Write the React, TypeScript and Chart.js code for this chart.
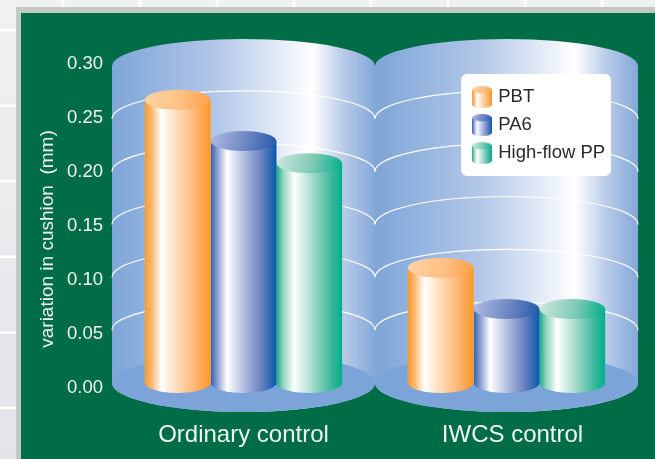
import React, { useEffect, useRef } from "react";
import { Chart, registerables } from "chart.js";

Chart.register(...registerables);

const categories = ["Ordinary control", "IWCS control"];
const seriesNames = ["PBT", "PA6", "High-flow PP"];
const pbtValues = [0.268, 0.109];
const pa6Values = [0.229, 0.07];
const highFlowValues = [0.208, 0.07];
const yTicks = [0, 0.05, 0.1, 0.15, 0.2, 0.25, 0.3];

type Stops = [number, string][];
const sideStops: Stops[] = [
  [[0, "#fb9a2a"], [0.1, "#fcb56e"], [0.25, "#ffffff"], [0.5, "#fedab5"], [0.8, "#fcb16a"], [1, "#fa9826"]],
  [[0, "#2f60ae"], [0.1, "#8b9dd2"], [0.25, "#ffffff"], [0.5, "#b4c0e2"], [0.78, "#6680c0"], [1, "#0859ad"]],
  [[0, "#10a886"], [0.1, "#8fd4bf"], [0.27, "#ffffff"], [0.55, "#a6dacb"], [0.85, "#35b79a"], [1, "#00b08d"]],
];
const capStops: Stops[] = [
  [[0, "#fdd3a8"], [0.55, "#fdc185"], [1, "#fb9f45"]],
  [[0, "#b2bce2"], [0.55, "#6c86c3"], [1, "#245aab"]],
  [[0, "#cfeadf"], [0.55, "#80cbb5"], [1, "#00ae8c"]],
];

const wallRy = 27;
const floorRy = 29;
const capRy = 10;

const gradient = (
  ctx: CanvasRenderingContext2D,
  x0: number,
  y0: number,
  x1: number,
  y1: number,
  stops: Stops,
) => {
  const g = ctx.createLinearGradient(x0, y0, x1, y1);
  stops.forEach(([o, c]) => g.addColorStop(o, c));
  return g;
};

const paintCylinder = (
  ctx: CanvasRenderingContext2D,
  cx: number,
  topY: number,
  baseY: number,
  w: number,
  ry: number,
  i: number,
) => {
  const l = cx - w / 2;
  const r = cx + w / 2;
  ctx.beginPath();
  ctx.moveTo(l, topY);
  ctx.lineTo(l, baseY);
  ctx.ellipse(cx, baseY, w / 2, ry, 0, Math.PI, 0, true);
  ctx.lineTo(r, topY);
  ctx.closePath();
  ctx.fillStyle = gradient(ctx, l, 0, r, 0, sideStops[i]);
  ctx.fill();
  ctx.beginPath();
  ctx.ellipse(cx, topY, w / 2, ry, 0, 0, Math.PI * 2);
  ctx.fillStyle = gradient(ctx, l, topY - ry, r, topY + ry * 0.6, capStops[i]);
  ctx.fill();
};

const makeIcon = (i: number) => {
  const c = document.createElement("canvas");
  c.width = 20;
  c.height = 22;
  const ctx = c.getContext("2d")!;
  paintCylinder(ctx, 10, 3.5, 18.5, 20, 3.5, i);
  return c;
};

const backdrop = {
  id: "backdrop",
  beforeDraw(chart: any) {
    const { ctx, width, height } = chart;
    const y = chart.scales.yMarks;
    const x = chart.scales.x;
    ctx.save();
    // page
    const bg = ctx.createLinearGradient(0, 0, 0, height);
    bg.addColorStop(0, "#f0f1f1");
    bg.addColorStop(1, "#e3e4e8");
    ctx.fillStyle = bg;
    ctx.fillRect(0, 0, width, height);
    ctx.strokeStyle = "#ffffff";
    ctx.lineWidth = 2.5;
    for (let vx = 63; vx < width; vx += 77) {
      ctx.beginPath();
      ctx.moveTo(vx, 0);
      ctx.lineTo(vx, height);
      ctx.stroke();
    }
    for (let hy = 30; hy < height; hy += 75.6) {
      ctx.beginPath();
      ctx.moveTo(0, hy);
      ctx.lineTo(width, hy);
      ctx.stroke();
    }
    ctx.fillStyle = "#c2cac3";
    ctx.fillRect(16, 7, width - 16, height - 7);
    ctx.fillStyle = "#006d46";
    ctx.fillRect(21, 13, width - 21, height - 13);

    // cylinder walls
    const half = (x.right - x.left) / categories.length / 2;
    const topY = y.getPixelForValue(0.3);
    const baseY = y.getPixelForValue(0);
    categories.forEach((_, i) => {
      const cx = x.getPixelForValue(i);
      const l = cx - half;
      const r = cx + half;
      const g = ctx.createLinearGradient(l, 0, r, 0);
      g.addColorStop(0, "#7ea6d8");
      g.addColorStop(0.4, "#b3c7e8");
      g.addColorStop(0.66, "#e9eff9");
      g.addColorStop(0.76, "#ffffff");
      g.addColorStop(0.88, "#b9cbe9");
      g.addColorStop(1, "#84a8da");
      ctx.beginPath();
      ctx.moveTo(l, topY);
      ctx.ellipse(cx, topY, half, wallRy, 0, Math.PI, Math.PI * 2);
      ctx.lineTo(r, baseY);
      ctx.ellipse(cx, baseY, half, floorRy, 0, 0, Math.PI);
      ctx.closePath();
      ctx.fillStyle = g;
      ctx.fill();
      ctx.beginPath();
      ctx.ellipse(cx, baseY, half, floorRy, 0, 0, Math.PI * 2);
      ctx.fillStyle = "#7ca4d8";
      ctx.fill();
      yTicks.slice(1, -1).forEach((v) => {
        ctx.beginPath();
        ctx.ellipse(cx, y.getPixelForValue(v), half, wallRy + 1, 0, Math.PI, Math.PI * 2);
        ctx.strokeStyle = "#ffffff";
        ctx.lineWidth = 1.1;
        ctx.stroke();
      });
    });

    // legend panel and placement
    ctx.beginPath();
    ctx.roundRect(461, 74, 150, 102, 6);
    ctx.fillStyle = "#ffffff";
    ctx.fill();
    ctx.restore();
    const lg = chart.legend;
    lg.left = 465.5;
    lg.top = 78.5;
    lg.right = 611;
    lg.bottom = 176;
  },
  afterDatasetDraw(chart: any, args: any) {
    const { ctx } = chart;
    const meta = args.meta;
    ctx.save();
    meta.data.forEach((bar: any) => {
      paintCylinder(ctx, bar.x, bar.y, bar.base, bar.width, capRy, args.index);
    });
    ctx.restore();
  },
};

export default function App() {
  const ref = useRef<HTMLCanvasElement>(null);
  useEffect(() => {
    const icons = seriesNames.map((_, i) => makeIcon(i));
    const textColor = "#eef5ef";
    const chart = new Chart(ref.current!, {
      type: "bar",
      data: {
        labels: categories,
        datasets: [pbtValues, pa6Values, highFlowValues].map((data, i) => ({
          label: seriesNames[i],
          data,
          yAxisID: "yMarks",
          backgroundColor: ["#fdc48a", "#8a9dd0", "#7fd0b8"][i],
          borderWidth: 0,
          barPercentage: 1,
          categoryPercentage: 0.75,
        })),
      },
      options: {
        responsive: false,
        animation: false,
        devicePixelRatio: 1,
        layout: { padding: { left: 0, right: 17, top: 64, bottom: 0 } },
        plugins: {
          title: { display: false },
          tooltip: { enabled: false },
          legend: {
            display: true,
            position: "chartArea",
            align: "start",
            labels: {
              usePointStyle: true,
              pointStyleWidth: 14,
              padding: 9.5,
              color: "#2b2a2b",
              font: { family: "Liberation Sans", size: 18.5 },
              generateLabels: () =>
                seriesNames.map((text, i) => ({
                  text,
                  pointStyle: icons[i],
                  datasetIndex: i,
                  fontColor: "#2b2a2b",
                  lineWidth: 0,
                })),
            },
          },
        },
        scales: {
          x: {
            grid: { display: false },
            border: { display: false },
            ticks: {
              color: textColor,
              padding: 25,
              maxRotation: 0,
              font: { family: "Liberation Sans", size: 24 },
            },
            afterFit: (s: any) => {
              s.height = 71;
            },
            afterUpdate: (s: any) => {
              if (s.__shifted) return;
              s.__shifted = true;
              const compute = s._computeLabelItems;
              s._computeLabelItems = function (area: any) {
                const items = compute.call(this, area);
                if (items[1]) items[1].options.translation[0] += 6;
                return items;
              };
            },
          },
          y: {
            position: "left",
            min: 0,
            max: 0.3,
            grid: { display: false, drawTicks: false },
            border: { display: false },
            ticks: {
              stepSize: 0.05,
              padding: 9,
              color: textColor,
              font: { family: "Liberation Sans", size: 18.5 },
              callback: (v: any) => Number(v).toFixed(2),
            },
            title: {
              display: true,
              text: "variation in cushion  (mm)",
              color: textColor,
              padding: { top: 36, bottom: 0 },
              font: { family: "Liberation Sans", size: 19 },
            },
            afterFit: (s: any) => {
              s.width = 112;
            },
            afterUpdate: (s: any) => {
              if (s.__shifted) return;
              s.__shifted = true;
              const drawTitle = s.drawTitle;
              s.drawTitle = function () {
                this.ctx.save();
                this.ctx.translate(0, 13);
                drawTitle.call(this);
                this.ctx.restore();
              };
            },
          },
          yMarks: {
            display: false,
            position: "left",
            min: -0.00473,
            max: 0.30189,
            grid: { display: false },
          },
        },
      },
      plugins: [backdrop],
    } as any);
    return () => chart.destroy();
  }, []);
  return (
    <canvas
      ref={ref}
      width={655}
      height={459}
      style={{ position: "fixed", left: 0, top: 0, display: "block" }}
    />
  );
}
